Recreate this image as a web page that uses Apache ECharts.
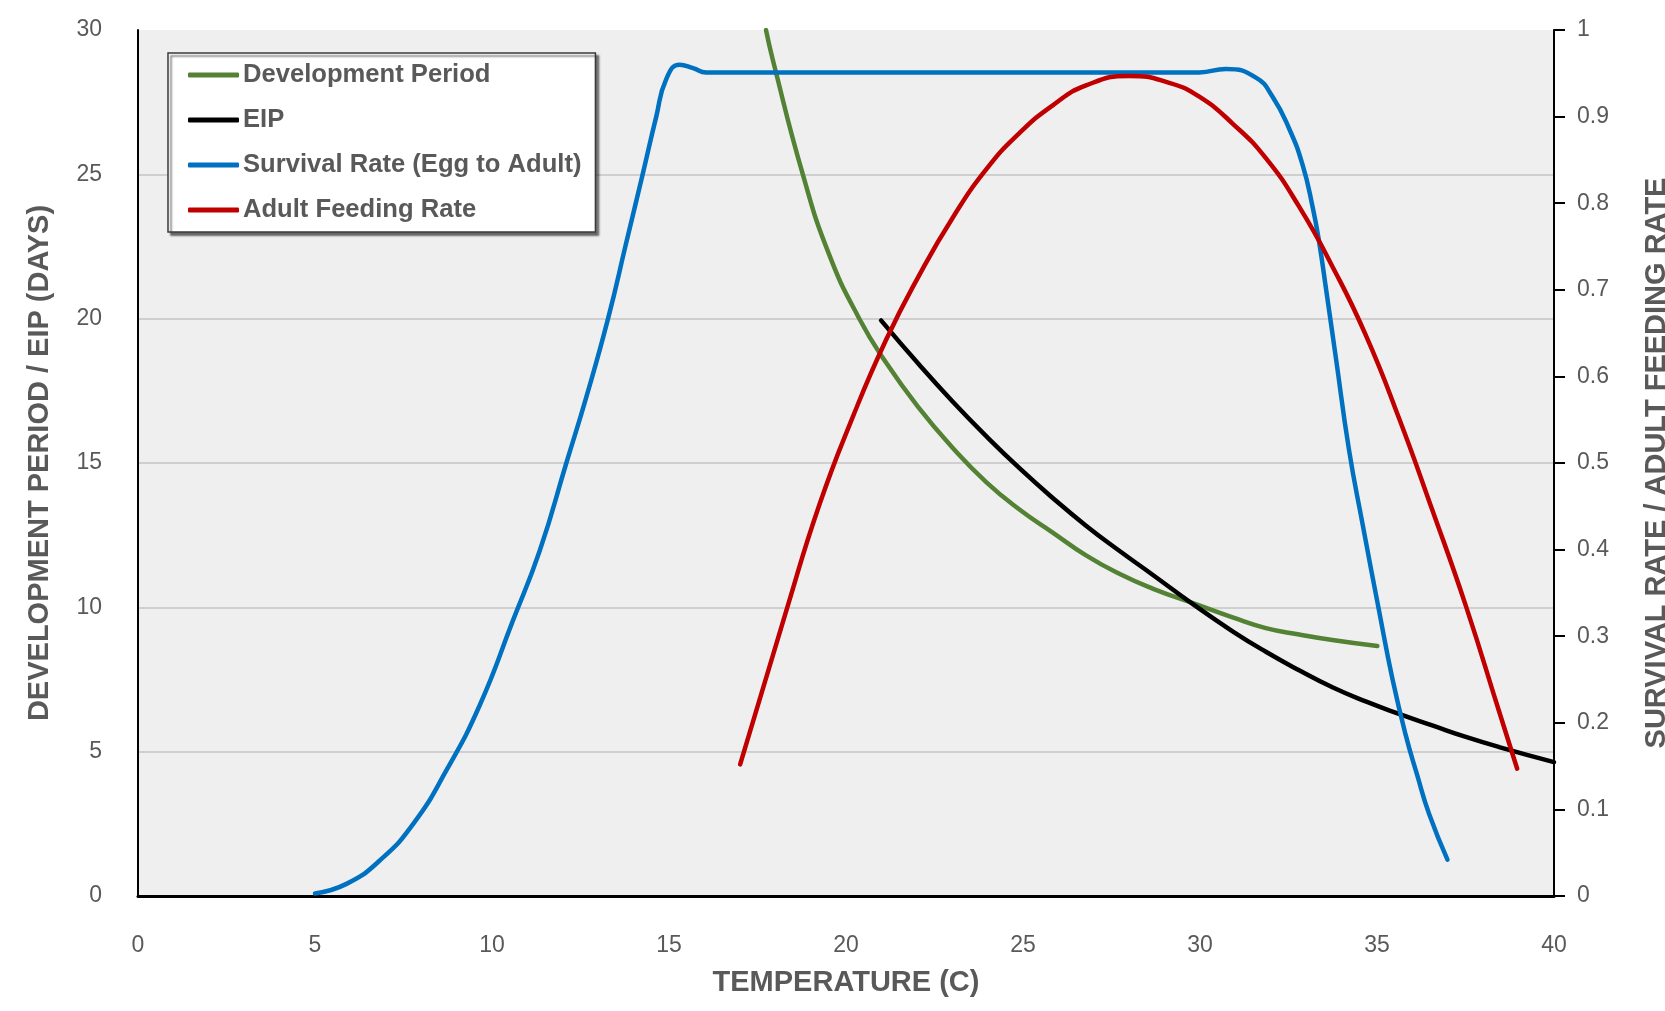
<!DOCTYPE html>
<html>
<head>
<meta charset="utf-8">
<script src="https://cdn.jsdelivr.net/npm/echarts@6/dist/echarts.min.js"></script>
<style>
  html, body { margin: 0; padding: 0; background: #fff; }
  #chart { width: 1665px; height: 1011px; }
</style>
</head>
<body>
<div id="chart"></div>
<script>
// temperatures (C) and values
const devTemp = [17.74, 17.93, 18.78, 19.53, 20.38, 21.13, 22.07, 23.01, 23.96, 24.9, 25.84, 26.78, 27.72, 28.66, 29.9, 30.92, 31.86, 32.8, 33.74, 35.01];
const devDays = [30.0, 28.98, 25.0, 22.2, 19.99, 18.48, 16.89, 15.53, 14.34, 13.39, 12.59, 11.8, 11.16, 10.65, 10.1, 9.65, 9.28, 9.06, 8.87, 8.66];

const eipTemp = [20.99, 22.07, 23.01, 23.96, 24.9, 25.84, 26.78, 27.72, 28.66, 29.79, 30.92, 31.86, 32.8, 33.74, 34.68, 35.62, 36.56, 37.51, 38.45, 40.0];
const eipDays = [19.94, 18.4, 17.13, 15.93, 14.82, 13.79, 12.83, 11.96, 11.13, 10.12, 9.17, 8.46, 7.82, 7.23, 6.74, 6.31, 5.91, 5.51, 5.16, 4.64];

const survTemp = [5.0, 5.89, 6.83, 7.77, 8.71, 9.65, 10.59, 11.35, 12.1, 12.67, 13.28, 13.79, 14.26, 14.64, 14.92, 15.3, 15.68, 16.05,
  20.0, 25.0, 29.98, 30.73, 31.58, 32.05, 32.52, 32.9, 33.18, 33.37, 33.56, 33.84, 34.21, 34.59, 35.06, 35.44, 35.81, 36.14, 36.47, 36.99];
const survRate = [0.003, 0.014, 0.041, 0.083, 0.145, 0.22, 0.318, 0.399, 0.5, 0.577, 0.667, 0.754, 0.834, 0.9, 0.943, 0.96, 0.956, 0.951,
  0.951, 0.951, 0.951, 0.955, 0.945, 0.923, 0.886, 0.844, 0.796, 0.754, 0.701, 0.621, 0.515, 0.43, 0.329, 0.25, 0.186, 0.139, 0.095, 0.042];

const feedTemp = [17.01, 18.31, 19.25, 20.19, 21.13, 22.07, 23.01, 23.96, 24.9, 25.84, 26.78, 28.0, 29.13, 29.98, 30.92, 31.86, 32.8, 33.74, 34.68, 35.62, 36.56, 37.51, 38.45, 38.96];
const feedRate = [0.152, 0.329, 0.452, 0.553, 0.642, 0.717, 0.783, 0.839, 0.881, 0.913, 0.936, 0.947, 0.939, 0.923, 0.892, 0.852, 0.796, 0.727, 0.648, 0.552, 0.446, 0.335, 0.213, 0.147];

const seriesNames = ['Development Period', 'EIP', 'Survival Rate (Egg to Adult)', 'Adult Feeding Rate'];
const seriesColors = ['#548235', '#000000', '#0070c0', '#c00000'];

const FONT = "'Liberation Sans', Arial, sans-serif";
const GREY = '#595959';

function pairs(xs, ys) {
  return xs.map((x, i) => [x, ys[i]]);
}

const chart = echarts.init(document.getElementById('chart'), null, { renderer: 'canvas' });

function lineSeries(idx, data, axis) {
  return {
    name: seriesNames[idx],
    type: 'line',
    yAxisIndex: axis,
    data: data,
    showSymbol: false,
    symbol: 'none',
    smooth: 0.5,
    clip: true,
    color: seriesColors[idx],
    lineStyle: { width: 4.5, color: seriesColors[idx], cap: 'round', join: 'round' }
  };
}

chart.setOption({
  animation: false,
  textStyle: { fontFamily: FONT },
  grid: {
    left: 138, right: 111, top: 30, bottom: 115,
    outerBoundsMode: 'none', containLabel: false,
    show: true, backgroundColor: '#efefef', borderWidth: 0
  },
  legend: {
    data: seriesNames,
    orient: 'vertical',
    left: 168, top: 53,
    padding: [9, 14, 9, 20],
    itemGap: 19,
    itemWidth: 51, itemHeight: 5,
    icon: 'roundRect',
    backgroundColor: '#ffffff',
    borderColor: '#3a3a3a', borderWidth: 1.5, borderRadius: 0,
    shadowColor: 'rgba(0,0,0,0.55)', shadowBlur: 2, shadowOffsetX: 3, shadowOffsetY: 3,
    selectedMode: false,
    textStyle: { fontFamily: FONT, fontSize: 25.6, fontWeight: 'bold', color: GREY, lineHeight: 26, padding: [0, 0, 0, -1] }
  },
  xAxis: {
    type: 'value', min: 0, max: 40, interval: 5,
    name: 'TEMPERATURE (C)', nameLocation: 'middle', nameGap: 72,
    nameTextStyle: { fontFamily: FONT, fontSize: 29, fontWeight: 'bold', color: GREY },
    axisLine: { show: true, onZero: false, lineStyle: { color: '#000', width: 3 } },
    axisTick: { show: false },
    axisLabel: { color: GREY, fontSize: 23, margin: 38, fontFamily: FONT },
    splitLine: { show: false }
  },
  yAxis: [{
    type: 'value', position: 'left', min: 0, max: 30, interval: 5,
    name: 'DEVELOPMENT PERIOD / EIP (DAYS)', nameLocation: 'middle', nameGap: 84,
    nameTextStyle: { fontFamily: FONT, fontSize: 29, fontWeight: 'bold', color: GREY },
    axisLine: { show: true, lineStyle: { color: '#000', width: 2 } },
    axisTick: { show: false },
    axisLabel: { color: GREY, fontSize: 23, margin: 36, fontFamily: FONT },
    splitLine: { show: true, showMinLine: false, showMaxLine: false, lineStyle: { color: '#c4c4c4', width: 1.5 } }
  }, {
    type: 'value', position: 'right', min: 0, max: 1, interval: 0.1,
    name: 'SURVIVAL RATE / ADULT FEEDING RATE', nameLocation: 'middle', nameGap: 88,
    nameTextStyle: { fontFamily: FONT, fontSize: 29, fontWeight: 'bold', color: GREY },
    axisLine: { show: true, lineStyle: { color: '#000', width: 2 } },
    axisTick: { show: true, inside: false, length: 11, lineStyle: { color: '#000', width: 2 } },
    axisLabel: { color: GREY, fontSize: 23, margin: 23, fontFamily: FONT },
    splitLine: { show: false }
  }],
  series: [
    lineSeries(0, pairs(devTemp, devDays), 0),
    lineSeries(1, pairs(eipTemp, eipDays), 0),
    lineSeries(2, pairs(survTemp, survRate), 1),
    lineSeries(3, pairs(feedTemp, feedRate), 1)
  ]
});
</script>
</body>
</html>
